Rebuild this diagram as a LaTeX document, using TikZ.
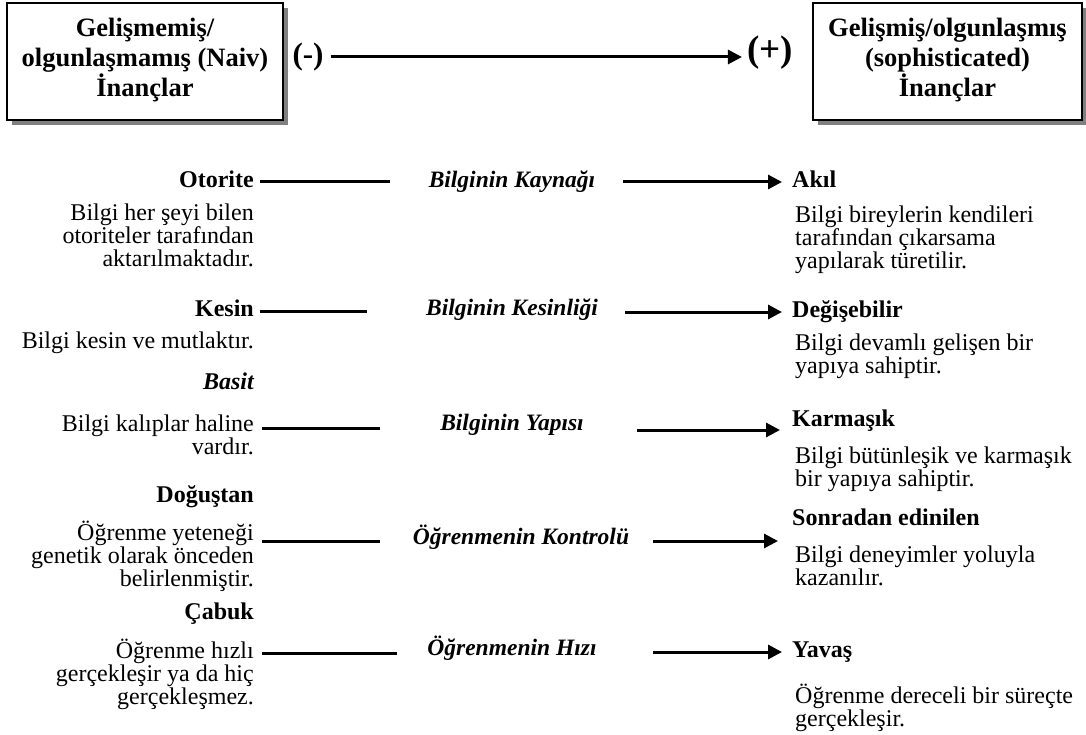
\documentclass[tikz,border=0pt]{standalone}
\usepackage{fontspec}
\setmainfont{Liberation Serif}
\usetikzlibrary{arrows.meta}
\newcommand\topstrut{\rule{0pt}{22pt}}
\tikzset{
  x=1pt, y=-1pt,
  basefont/.style={inner sep=0pt, font=\fontsize{24}{23}\selectfont},
  lbody/.style={basefont, anchor=north east, align=right},
  rbody/.style={basefont, anchor=north west, align=left},
  lhead/.style={inner sep=0pt, anchor=base east, font=\fontsize{24}{23}\selectfont\bfseries},
  lheadit/.style={lhead, font=\fontsize{24}{23}\selectfont\bfseries\itshape},
  rhead/.style={inner sep=0pt, anchor=base west, font=\fontsize{24}{23}\selectfont\bfseries},
  midlab/.style={inner sep=0pt, anchor=base, font=\fontsize{23.5}{23}\selectfont\bfseries\itshape},
  boxtxt/.style={inner sep=0pt, anchor=north, align=center, font=\fontsize{26.5}{30}\selectfont\bfseries},
  beliefbox/.style={draw=black, line width=1.5pt, fill=white, inner sep=0pt},
  shadowc/.style={fill=black!50},
  signlab/.style={inner sep=0pt, font=\fontsize{31}{31}\selectfont\bfseries},
  bigsign/.style={inner sep=0pt, font=\fontsize{37}{37}\selectfont\bfseries},
  conn/.style={line width=3pt},
  arr/.style={line width=3pt, -{Triangle[length=14pt,width=14pt]}},
}
\begin{document}
\begin{tikzpicture}
\useasboundingbox (0,0) rectangle (1086,735);

% top boxes
\fill[shadowc] (12,8) rectangle (288,125);
\node[beliefbox, minimum width=276pt, minimum height=117pt] (leftbox) at (145,61.5) {};
\node[boxtxt] (naive) at (145,36-22) {\topstrut Gelişmemiş/\\olgunlaşmamış (Naiv)\\İnançlar};

\fill[shadowc] (818,8) rectangle (1087,125);
\node[beliefbox, minimum width=269pt, minimum height=117pt] (rightbox) at (947.5,61.5) {};
\node[boxtxt] (soph) at (947.5,36-22) {\topstrut Gelişmiş/olgunlaşmış\\(sophisticated)\\İnançlar};

\node[signlab, inner xsep=7pt] (minus) at (308,57) {(-)};
\node[bigsign, inner xsep=5pt] (plus) at (770,53) {(+)};
\draw[arr] (minus.east) -- (plus.west |- minus.east);

% Row 1
\node[lhead] (otorite) at (254,188) {Otorite};
\node[lbody] (otoriteb) at (254,220-22) {\topstrut Bilgi her şeyi bilen\\otoriteler tarafından\\aktarılmaktadır.};
\node[midlab] (kaynak) at (512,188) {Bilginin Kaynağı};
\node[rhead] (akil) at (792,188) {Akıl};
\node[rbody] (akilb) at (795,222-22) {\topstrut Bilgi bireylerin kendileri\\tarafından çıkarsama\\yapılarak türetilir.};
\coordinate (l1a) at (260,182); \coordinate (l1b) at (390,182);
\coordinate (a1a) at (623,182); \coordinate (a1b) at (782,182);
\draw[conn] (l1a) -- (l1b);
\draw[arr] (a1a) -- (a1b);

% Row 2
\node[lhead] (kesin) at (254,316) {Kesin};
\node[lbody] (kesinb) at (254,348-22) {\topstrut Bilgi kesin ve mutlaktır.};
\node[midlab] (kesinlik) at (512,315) {Bilginin Kesinliği};
\node[rhead] (degis) at (792,317) {Değişebilir};
\node[rbody] (degisb) at (795,350-22) {\topstrut Bilgi devamlı gelişen bir\\yapıya sahiptir.};
\coordinate (l2a) at (260,311); \coordinate (l2b) at (367,311);
\coordinate (a2a) at (625,312); \coordinate (a2b) at (782,312);
\draw[conn] (l2a) -- (l2b);
\draw[arr] (a2a) -- (a2b);

% Row 3
\node[lheadit] (basit) at (254,389) {Basit};
\node[lbody] (basitb) at (254,431-22) {\topstrut Bilgi kalıplar haline\\vardır.};
\node[midlab] (yapi) at (512,430) {Bilginin Yapısı};
\node[rhead] (karmasik) at (792,426) {Karmaşık};
\node[rbody] (karmasikb) at (795,463-22) {\topstrut Bilgi bütünleşik ve karmaşık\\bir yapıya sahiptir.};
\coordinate (l3a) at (262,428); \coordinate (l3b) at (380,428);
\coordinate (a3a) at (637,430); \coordinate (a3b) at (780,430);
\draw[conn] (l3a) -- (l3b);
\draw[arr] (a3a) -- (a3b);

% Row 4
\node[lhead] (dogustan) at (254,502) {Doğuştan};
\node[lbody] (dogustanb) at (254,540-22) {\topstrut Öğrenme yeteneği\\genetik olarak önceden\\belirlenmiştir.};
\node[midlab] (kontrol) at (521,544) {Öğrenmenin Kontrolü};
\node[rhead] (sonradan) at (792,525) {Sonradan edinilen};
\node[rbody] (sonradanb) at (795,562-22) {\topstrut Bilgi deneyimler yoluyla\\kazanılır.};
\coordinate (l4a) at (262,541); \coordinate (l4b) at (380,541);
\coordinate (a4a) at (653,541); \coordinate (a4b) at (778,541);
\draw[conn] (l4a) -- (l4b);
\draw[arr] (a4a) -- (a4b);

% Row 5
\node[lhead] (cabuk) at (254,619) {Çabuk};
\node[lbody] (cabukb) at (254,658-22) {\topstrut Öğrenme hızlı\\gerçekleşir ya da hiç\\gerçekleşmez.};
\node[midlab] (hiz) at (512,655) {Öğrenmenin Hızı};
\node[rhead] (yavas) at (792,657) {Yavaş};
\node[rbody] (yavasb) at (795,703-22) {\topstrut Öğrenme dereceli bir süreçte\\gerçekleşir.};
\coordinate (l5a) at (262,653); \coordinate (l5b) at (397,653);
\coordinate (a5a) at (653,652); \coordinate (a5b) at (782,652);
\draw[conn] (l5a) -- (l5b);
\draw[arr] (a5a) -- (a5b);
\end{tikzpicture}
\end{document}
